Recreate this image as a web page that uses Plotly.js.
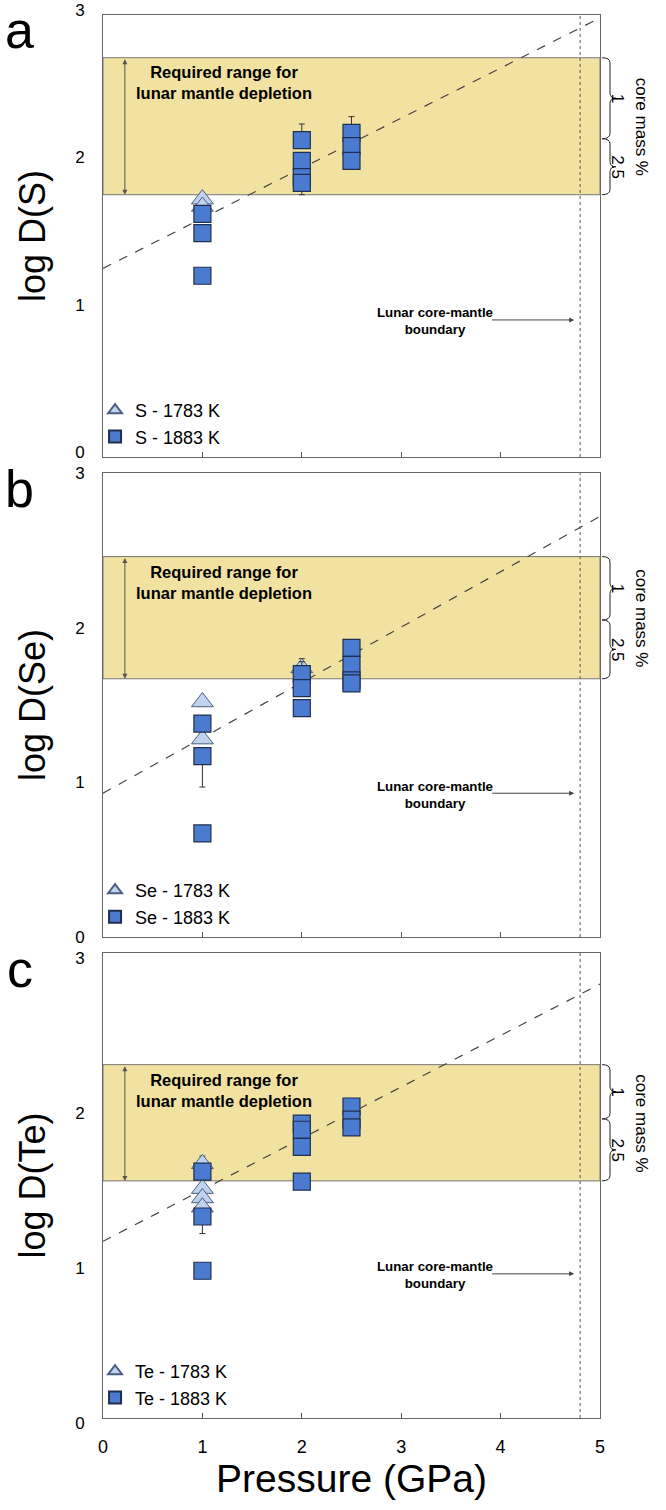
<!DOCTYPE html>
<html>
<head>
<meta charset="utf-8">
<script src="https://cdn.plot.ly/plotly-3.0.1.min.js"></script>
<style>html,body{margin:0;padding:0;background:#fff}#chart{width:666px;height:1510px}</style>
</head>
<body>
<div id="chart"></div>
<script>
// ---------- DATA ----------
const elements = ["S", "Se", "Te"];
const panelLetters = ["a", "b", "c"];
const yTitles = ["log D(S)", "log D(Se)", "log D(Te)"];
const xTickVals = [0, 1, 2, 3, 4, 5];
const yTickVals = [0, 1, 2, 3];

// 1783 K (triangles)
const lowT_x = [[1, 1], [1, 1, 2], [1, 1, 1, 1]];
const lowT_y = [[1.75, 1.70], [1.52, 1.28, 1.74], [1.64, 1.48, 1.42, 1.36]];
const lowT_errPlus = [[0.03, 0], [0, 0, 0.06], [0.05, 0, 0, 0]];
const lowT_errMinus = [[0, 0], [0, 0, 0], [0, 0, 0, 0]];

// 1883 K (squares)
const highT_x = [
  [1, 1, 1, 2, 2, 2, 2, 2.5, 2.5, 2.5],
  [1, 1, 1, 2, 2, 2, 2.5, 2.5, 2.5, 2.5],
  [1, 1, 1, 2, 2, 2, 2, 2.5, 2.5, 2.5]
];
const highT_y = [
  [1.65, 1.52, 1.23, 2.15, 2.01, 1.90, 1.86, 2.20, 2.11, 2.01],
  [1.38, 1.17, 0.67, 1.70, 1.61, 1.48, 1.87, 1.76, 1.66, 1.64],
  [1.59, 1.30, 0.95, 1.90, 1.86, 1.75, 1.525, 2.01, 1.925, 1.875]
];
const highT_errPlus = [
  [0, 0, 0.05, 0.11, 0, 0, 0, 0.11, 0, 0],
  [0, 0, 0.04, 0.08, 0, 0, 0.05, 0, 0, 0],
  [0.05, 0, 0, 0, 0, 0, 0, 0.04, 0, 0]
];
const highT_errMinus = [
  [0, 0, 0.05, 0, 0, 0, 0.08, 0, 0, 0],
  [0, 0.20, 0.04, 0, 0, 0, 0, 0, 0, 0],
  [0, 0.11, 0, 0, 0, 0, 0, 0, 0, 0]
];

// regression (dashed) line end points at P = 0 and P = 5 GPa
const fitX = [0, 5];
const fitY = [[1.28, 2.98], [0.93, 2.72], [1.14, 2.80]];

// required range band and core-mass split (1 % / 2.5 %)
const bandLow = [1.78, 1.67, 1.53];
const bandHigh = [2.71, 2.46, 2.28];
const bandSplit = [2.16, 2.05, 1.93];
const coreMassLabels = ["1", "2.5"];

// lunar core-mantle boundary pressure
const cmbPressure = 4.8;

// ---------- STYLE / LAYOUT ----------
const FONT = "Liberation Sans, Arial, sans-serif";
const SQ_FILL = "#4a7bd1", SQ_LINE = "#1e2f4f";
const TRI_FILL = "#bfd2ee", TRI_LINE = "#4a5d80";
const BAND_FILL = "#f1e2a2";
const PH = 1403; // plot-area height in px
const domains = [[0.685, 1.0], [0.3428, 0.6735], [0.0, 0.3314]];
const labelShift = [-5, 0, 5];

const traces = [];
const shapes = [];
const annotations = [];
const layout = {
  width: 666, height: 1510,
  margin: {l: 103, r: 66, t: 15, b: 92},
  paper_bgcolor: "#fff", plot_bgcolor: "#fff",
  font: {family: FONT, color: "#000"},
  showlegend: true
};

for (let p = 0; p < 3; p++) {
  const sfx = p === 0 ? "" : String(p + 1);
  const xa = "x" + sfx, ya = "y" + sfx;
  const legName = p === 0 ? "legend" : "legend" + (p + 1);

  layout["xaxis" + sfx] = {
    domain: [0, 1], anchor: ya, range: [0, 5], tickvals: xTickVals,
    showticklabels: p === 2, ticks: "inside", ticklen: 5, tickcolor: "#555",
    ticklabelstandoff: 12, ticklabeloverflow: "allow",
    showline: true, mirror: true, linecolor: "#666", linewidth: 1,
    showgrid: false, zeroline: false,
    tickfont: {family: FONT, size: 18, color: "#000"},
    title: p === 2 ? {text: "Pressure (GPa)", font: {family: FONT, size: 39, color: "#000"}, standoff: 8} : undefined
  };
  if (p > 0) layout["xaxis" + sfx].matches = "x";
  layout["yaxis" + sfx] = {
    domain: domains[p], anchor: xa, range: [0, 3], tickvals: yTickVals,
    ticks: "", ticklabelstandoff: 14, ticklabelshift: labelShift[p], ticklabeloverflow: "allow",
    showline: true, mirror: true, linecolor: "#666", linewidth: 1,
    showgrid: false, zeroline: false,
    tickfont: {family: FONT, size: 17, color: "#000"},
    title: {text: yTitles[p], font: {family: FONT, size: 36, color: "#000"}, standoff: 18}
  };

  // band
  shapes.push({type: "rect", xref: xa, yref: ya, x0: 0, x1: 5, y0: bandLow[p], y1: bandHigh[p],
    fillcolor: BAND_FILL, line: {color: "#777", width: 1}, layer: "below"});
  // core-mantle boundary
  shapes.push({type: "line", xref: xa, yref: ya + " domain", x0: cmbPressure, x1: cmbPressure, y0: 0, y1: 1,
    line: {color: "#555", width: 1, dash: "dot"}});

  // brace (right side)
  const xs0 = 1 + 2 / 497, xs1 = 1 + 10 / 497, xs2 = 1 + 16 / 497;
  const d = 0.035;
  function brace(yT, yB) {
    const yM = (yT + yB) / 2;
    return `M${xs0},${yT} Q${xs1},${yT} ${xs1},${yT - d} L${xs1},${yM + d} Q${xs1},${yM} ${xs2},${yM} ` +
           `Q${xs1},${yM} ${xs1},${yM - d} L${xs1},${yB + d} Q${xs1},${yB} ${xs0},${yB}`;
  }
  shapes.push({type: "path", xref: "paper", yref: ya, path: brace(bandHigh[p], bandSplit[p]),
    line: {color: "#222", width: 1}});
  shapes.push({type: "path", xref: "paper", yref: ya, path: brace(bandSplit[p], bandLow[p]),
    line: {color: "#222", width: 1}});
  annotations.push({xref: "paper", yref: ya, x: 1 + 29 / 497, y: (bandHigh[p] + bandSplit[p]) / 2,
    text: coreMassLabels[0], textangle: 90, showarrow: false, font: {family: FONT, size: 17}});
  annotations.push({xref: "paper", yref: ya, x: 1 + 29 / 497, y: (bandSplit[p] + bandLow[p]) / 2,
    text: coreMassLabels[1], textangle: 90, showarrow: false, font: {family: FONT, size: 17}});
  annotations.push({xref: "paper", yref: ya, x: 1 + 53 / 497, y: (bandHigh[p] + bandLow[p]) / 2,
    text: "core mass %", textangle: 90, showarrow: false, font: {family: FONT, size: 17}});

  // required range text + double arrow
  annotations.push({xref: xa, yref: ya, x: 1.22, y: bandHigh[p] - 0.17,
    text: "<b>Required range for<br>lunar mantle depletion</b>", showarrow: false,
    font: {family: FONT, size: 16.5}, align: "center"});
  annotations.push({xref: xa, yref: ya, x: 0.22, y: bandLow[p], axref: xa, ayref: ya, ax: 0.22, ay: bandHigh[p],
    text: "", showarrow: true, arrowside: "end+start", arrowhead: 2, arrowsize: 1, arrowwidth: 1, arrowcolor: "#555"});

  // lunar core-mantle boundary text + arrow
  annotations.push({xref: xa, yref: ya, x: 3.34, y: 0.92,
    text: "<b>Lunar core-mantle<br>boundary</b>", showarrow: false,
    font: {family: FONT, size: 13.3}, align: "center"});
  annotations.push({xref: xa, yref: ya, x: 4.74, y: 0.93, axref: xa, ayref: ya, ax: 3.9, ay: 0.93,
    text: "", showarrow: true, arrowhead: 2, arrowsize: 1, arrowwidth: 1, arrowcolor: "#444"});

  // panel letter
  annotations.push({xref: "paper", yref: ya + " domain", x: -0.168, y: 0.965, xanchor: "center", yanchor: "middle",
    text: panelLetters[p], showarrow: false, font: {family: FONT, size: 52}});

  // fit line
  traces.push({type: "scatter", mode: "lines", x: fitX, y: fitY[p], xaxis: xa, yaxis: ya,
    line: {color: "#444", width: 1.2, dash: "dash"}, showlegend: false, hoverinfo: "skip"});

  // triangles
  traces.push({type: "scatter", mode: "markers", name: elements[p] + " - 1783 K", legend: legName,
    x: lowT_x[p], y: lowT_y[p], xaxis: xa, yaxis: ya,
    marker: {symbol: "triangle-up", size: 19, color: TRI_FILL, line: {color: TRI_LINE, width: 1}},
    error_y: {type: "data", symmetric: false, array: lowT_errPlus[p], arrayminus: lowT_errMinus[p],
      color: "#333", thickness: 1, width: 3}});
  // squares
  traces.push({type: "scatter", mode: "markers", name: elements[p] + " - 1883 K", legend: legName,
    x: highT_x[p], y: highT_y[p], xaxis: xa, yaxis: ya,
    marker: {symbol: "square", size: 17, color: SQ_FILL, line: {color: SQ_LINE, width: 1.2}},
    error_y: {type: "data", symmetric: false, array: highT_errPlus[p], arrayminus: highT_errMinus[p],
      color: "#333", thickness: 1, width: 3}});

  layout[legName] = {
    x: -0.016, xanchor: "left", y: domains[p][0] + 65 / PH, yanchor: "top",
    bgcolor: "rgba(0,0,0,0)", borderwidth: 0, itemsizing: "constant", tracegroupgap: 0,
    font: {family: FONT, size: 18, color: "#000"}, itemclick: false, itemdoubleclick: false
  };
}
layout.shapes = shapes;
layout.annotations = annotations;

Plotly.newPlot("chart", traces, layout, {staticPlot: true, displayModeBar: false});
</script>
</body>
</html>
